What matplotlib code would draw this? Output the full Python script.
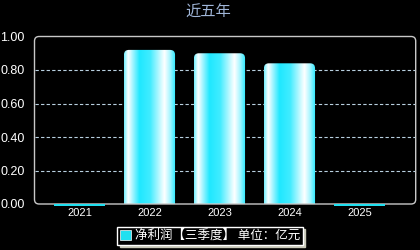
import numpy as np
import matplotlib
matplotlib.use("Agg")
import matplotlib.pyplot as plt
from matplotlib.patches import FancyBboxPatch, Rectangle
from matplotlib.colors import LinearSegmentedColormap

plt.rcParams['font.family'] = ['Liberation Sans', 'Noto Sans CJK SC', 'DejaVu Sans']

categories = ['2021', '2022', '2023', '2024', '2025']
values = [-0.012, 0.92, 0.90, 0.84, -0.012]
yticks = [0.0, 0.2, 0.4, 0.6, 0.8, 1.0]
title = '近五年'
legend_label = '净利润【三季度】 单位：亿元'

fig = plt.figure(figsize=(4.2, 2.5), dpi=100, facecolor='black')
ax = fig.add_axes([34.5/420, 1-204/250, (415.7-34.5)/420, (204-36.5)/250])
ax.set_facecolor('black')
xlim = (-0.643, 4.803)
ax.set_xlim(*xlim)
ax.set_ylim(0, 1.0)

for s in ax.spines.values():
    s.set_visible(False)
frame = FancyBboxPatch((0, 0), 1, 1, boxstyle='round,pad=0,rounding_size=0.012',
                       transform=ax.transAxes, fill=False, edgecolor='#c8c8c8',
                       linewidth=1.0, mutation_aspect=380/167, zorder=5, clip_on=False)
ax.add_patch(frame)

for y in yticks[1:-1]:
    ax.axhline(y, color='#b8d0e0', linestyle=(0, (3, 2)), linewidth=0.8, zorder=1)

cmap = LinearSegmentedColormap.from_list('barg', [
    (0.0, '#70f0ff'), (0.08, '#ffffff'), (0.14, '#c0f8ff'), (0.3, '#20e8ff'),
    (0.5, '#40ecff'), (0.78, '#ffffff'), (0.88, '#b0f6ff'), (1.0, '#20e8ff')])
grad = np.linspace(0, 1, 256).reshape(1, -1)

width = 0.73
for i, v in enumerate(values):
    x0 = i - width / 2
    if v > 0.05:
        patch = FancyBboxPatch((x0, -0.05), width, v + 0.05,
                               boxstyle='round,pad=0,rounding_size=0.07',
                               mutation_aspect=70/167,
                               facecolor='none', edgecolor='none', zorder=2)
        ax.add_patch(patch)
        im = ax.imshow(grad, cmap=cmap, extent=(x0, x0 + width, 0, v),
                       aspect='auto', zorder=2, interpolation='bilinear')
        im.set_clip_path(patch)
    else:
        ax.add_patch(Rectangle((x0, v), width, -v, facecolor='#20e0f0',
                               edgecolor='none', clip_on=False, zorder=6))

ax.set_xlim(*xlim)
ax.set_ylim(0, 1.0)
ax.set_xticks(range(len(categories)))
ax.set_xticklabels(categories)
ax.set_yticks(yticks)
ax.set_yticklabels([f'{y:.2f}' for y in yticks])
ax.tick_params(axis='both', length=0, colors='white', labelsize=9)
ax.tick_params(axis='x', pad=3, labelsize=8)
ax.tick_params(axis='y', pad=7)

fig.text(0.497, 0.952, title, ha='center', va='center', color='#a0b6d8',
         fontsize=11, family=['Noto Sans CJK SC', 'DejaVu Sans'])

handle = Rectangle((0, 0), 1, 1, facecolor='#20e0f0', edgecolor='white', linewidth=0.5)
leg = fig.legend([handle], [legend_label], loc='center', bbox_to_anchor=(210/420, 1-235.5/250),
                 frameon=True, fancybox=False, shadow={'color': '#c8c8b8', 'alpha': 1, 'ox': 2, 'oy': -2},
                 facecolor='black', edgecolor='white', handlelength=0.9, handleheight=0.9,
                 handletextpad=0.3, borderpad=0.2, borderaxespad=0,
                 prop={'family': ['Noto Sans CJK SC', 'DejaVu Sans'], 'size': 9})
for t in leg.get_texts():
    t.set_color('white')
leg.get_frame().set_linewidth(1.0)

fig.savefig('out.png', dpi=100, facecolor='black')
